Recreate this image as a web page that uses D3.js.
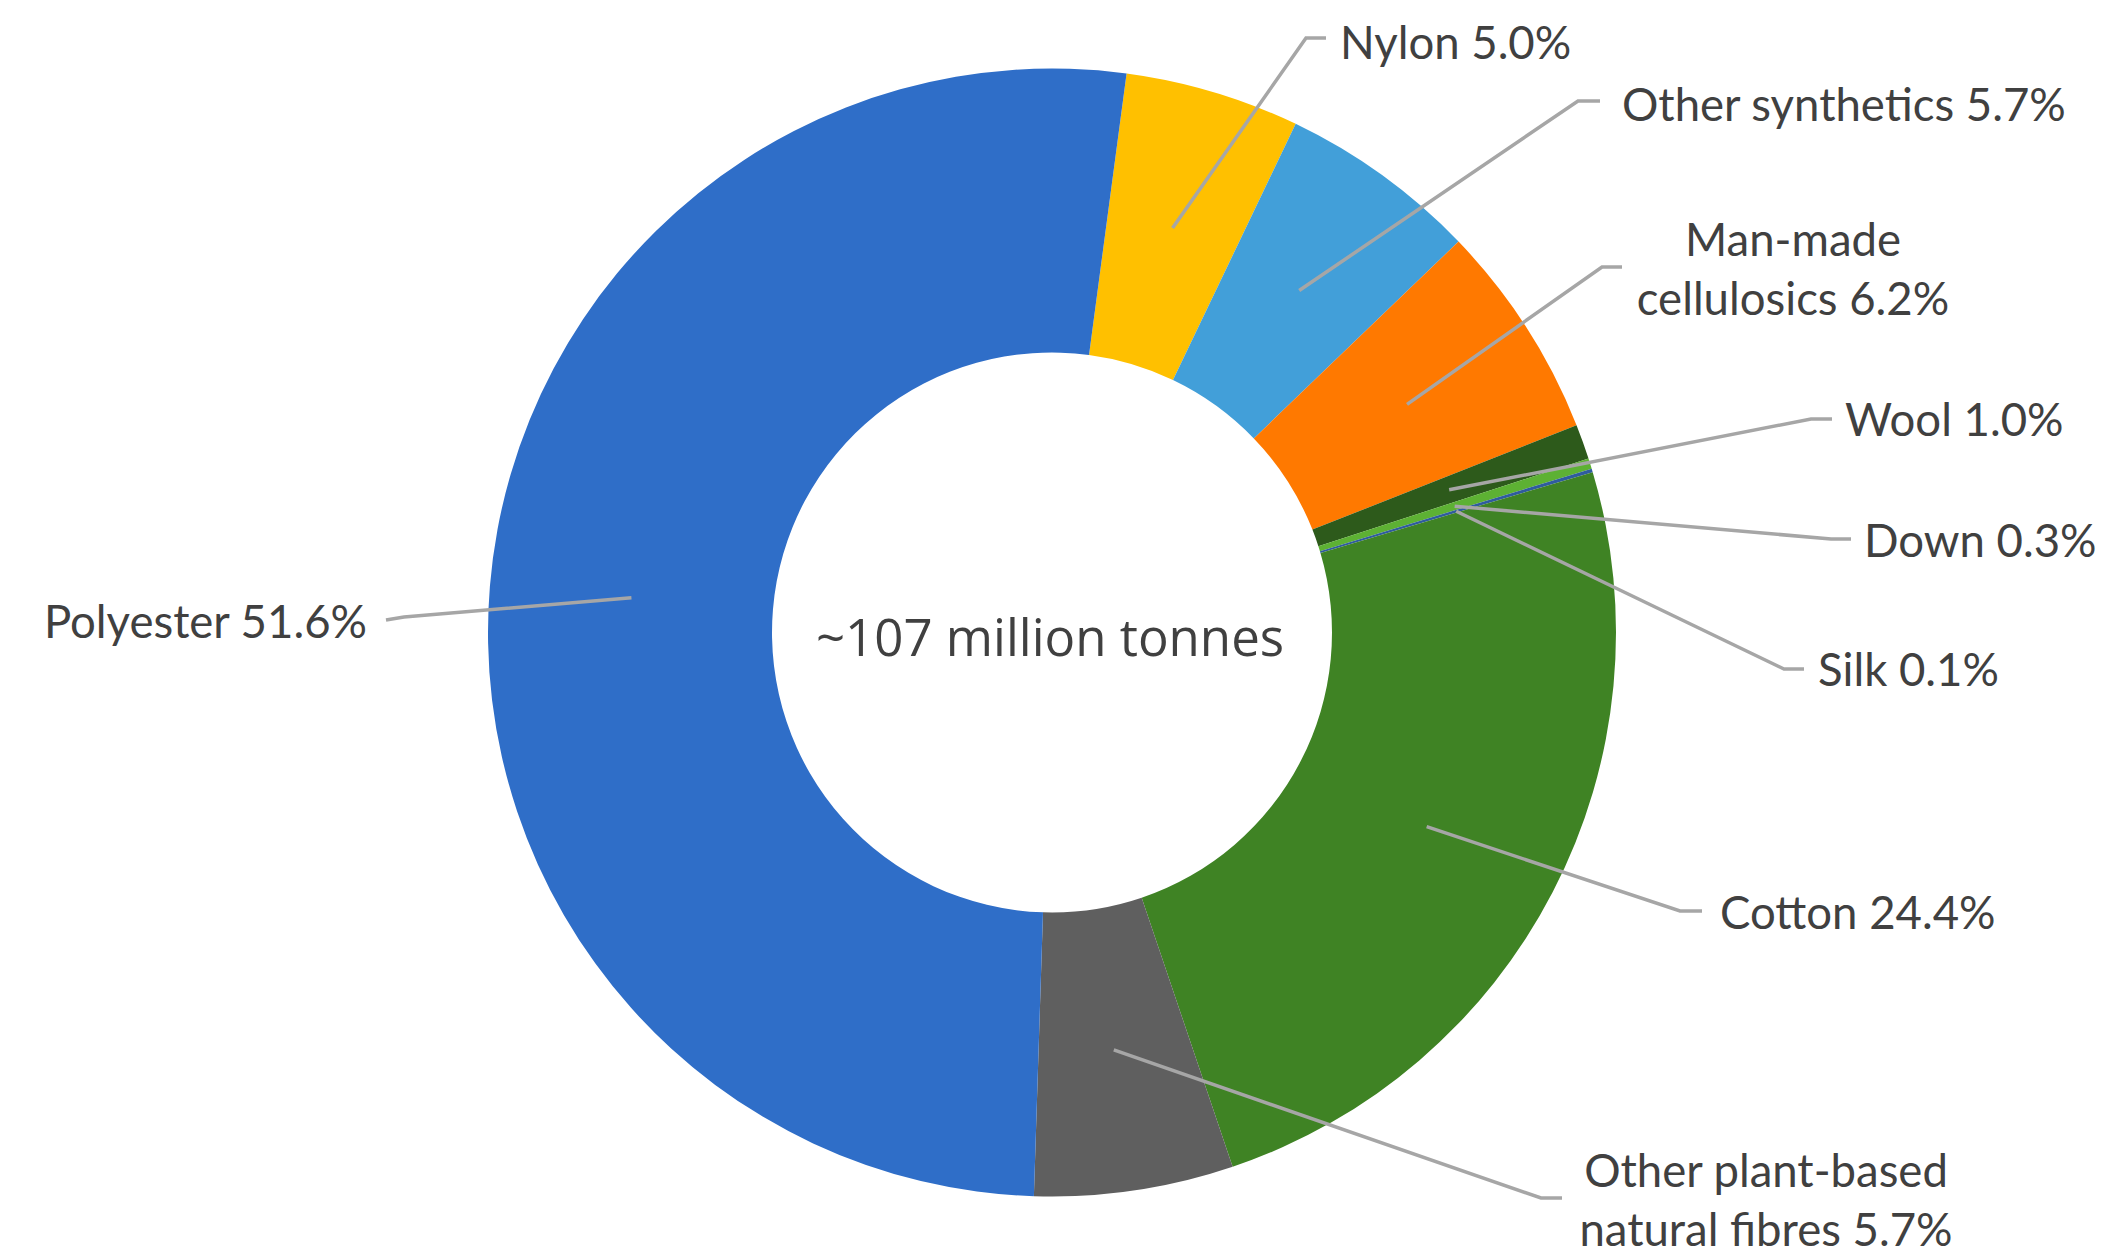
<!DOCTYPE html>
<html>
<head>
<meta charset="utf-8">
<script src="https://cdn.jsdelivr.net/npm/d3@7"></script>
<style>
  html, body { margin: 0; padding: 0; background: #ffffff; }
  svg { display: block; }
</style>
</head>
<body>
<svg id="chart" width="2111" height="1256"></svg>
<script>
// Fibre categories in clockwise order, starting just right of twelve o'clock
const categories = [
  "Nylon", "Other synthetics", "Man-made cellulosics", "Wool", "Down",
  "Silk", "Cotton", "Other plant-based natural fibres", "Polyester"
];
// Share of global fibre production (%)
const shares = [5.0, 5.7, 6.2, 1.0, 0.3, 0.1, 24.4, 5.7, 51.6];
// Label text lines for each slice (value appended on the last line)
const labelLines = [
  ["Nylon"], ["Other synthetics"], ["Man-made", "cellulosics"], ["Wool"], ["Down"],
  ["Silk"], ["Cotton"], ["Other plant-based", "natural fibres"], ["Polyester"]
];
const centreText = "~107 million tonnes";

// ---- styling / layout ----
const colors = ["#FFC000", "#429FD9", "#FF7900", "#2D5A1B", "#5DB133",
                "#2F5C9E", "#3F8324", "#5F5F5F", "#2F6EC8"];
const W = 2111, H = 1256;
const cx = 1052, cy = 632.5;
const outerR = 564, innerR = 280;
const startDeg = 7.6;

// label placement: elbow of the leader, end of the horizontal tick, text anchor
const labelLayout = [
  { elbow: [1306, 38],  end: [1326, 38],  tx: 1340, ty: 43,   anchor: "start" },
  { elbow: [1578, 101], end: [1600, 101], tx: 1622, ty: 105,  anchor: "start" },
  { elbow: [1602, 267], end: [1622, 267], tx: 1793, ty: 240,  anchor: "middle" },
  { elbow: [1811, 419], end: [1832, 419], tx: 1845, ty: 420,  anchor: "start" },
  { elbow: [1831, 539], end: [1851, 539], tx: 1864, ty: 541,  anchor: "start" },
  { elbow: [1784, 669], end: [1804, 669], tx: 1818, ty: 670,  anchor: "start" },
  { elbow: [1680, 911], end: [1702, 911], tx: 1720, ty: 913,  anchor: "start" },
  { elbow: [1541, 1198], end: [1562, 1198], tx: 1766, ty: 1171, anchor: "middle" },
  { elbow: [404, 617],  end: [386, 620],  tx: 367,  ty: 622,  anchor: "end" }
];
const labelFont = "Lato, 'Open Sans', sans-serif";
const labelSize = 45.5;
const lineGap = 59;
const textColor = "#404040";
const leaderColor = "#A6A6A6";

const svg = d3.select("#chart");

const data = categories.map((name, i) => ({ name, value: shares[i], i }));

const start = startDeg * Math.PI / 180;
const pie = d3.pie()
  .sort(null)
  .value(d => d.value)
  .startAngle(start)
  .endAngle(start + 2 * Math.PI);

const arcs = pie(data);
const arc = d3.arc().innerRadius(innerR).outerRadius(outerR);

const g = svg.append("g").attr("transform", `translate(${cx},${cy})`);

g.selectAll("path.slice")
  .data(arcs)
  .join("path")
  .attr("class", "slice")
  .attr("d", arc)
  .attr("fill", d => colors[d.data.i]);

// Leader lines from each slice centroid to its label
const line = d3.line();
svg.append("g")
  .selectAll("path.leader")
  .data(arcs)
  .join("path")
  .attr("class", "leader")
  .attr("fill", "none")
  .attr("stroke", leaderColor)
  .attr("stroke-width", 3.5)
  .attr("d", d => {
    const c = arc.centroid(d);
    const L = labelLayout[d.data.i];
    return line([[cx + c[0], cy + c[1]], L.elbow, L.end]);
  });

// Category labels with percentage
const labels = svg.append("g")
  .attr("font-family", labelFont)
  .attr("font-size", labelSize)
  .attr("fill", textColor);

arcs.forEach(d => {
  const i = d.data.i;
  const L = labelLayout[i];
  const lines = labelLines[i].slice();
  lines[lines.length - 1] = lines[lines.length - 1] + " " + d3.format(".1f")(d.data.value) + "%";
  const t = labels.append("text")
    .attr("text-anchor", L.anchor)
    .attr("x", L.tx)
    .attr("y", L.ty)
    .attr("dy", "0.35em");
  lines.forEach((s, k) => {
    t.append("tspan")
      .attr("x", L.tx)
      .attr("y", L.ty + k * lineGap)
      .attr("dy", "0.35em")
      .text(s);
  });
});

// Total in the hole of the donut
svg.append("text")
  .attr("x", cx - 2)
  .attr("y", 638)
  .attr("dy", "0.35em")
  .attr("text-anchor", "middle")
  .attr("font-family", "'Open Sans', 'Noto Sans', sans-serif")
  .attr("font-size", 51)
  .attr("fill", textColor)
  .text(centreText);
</script>
</body>
</html>
